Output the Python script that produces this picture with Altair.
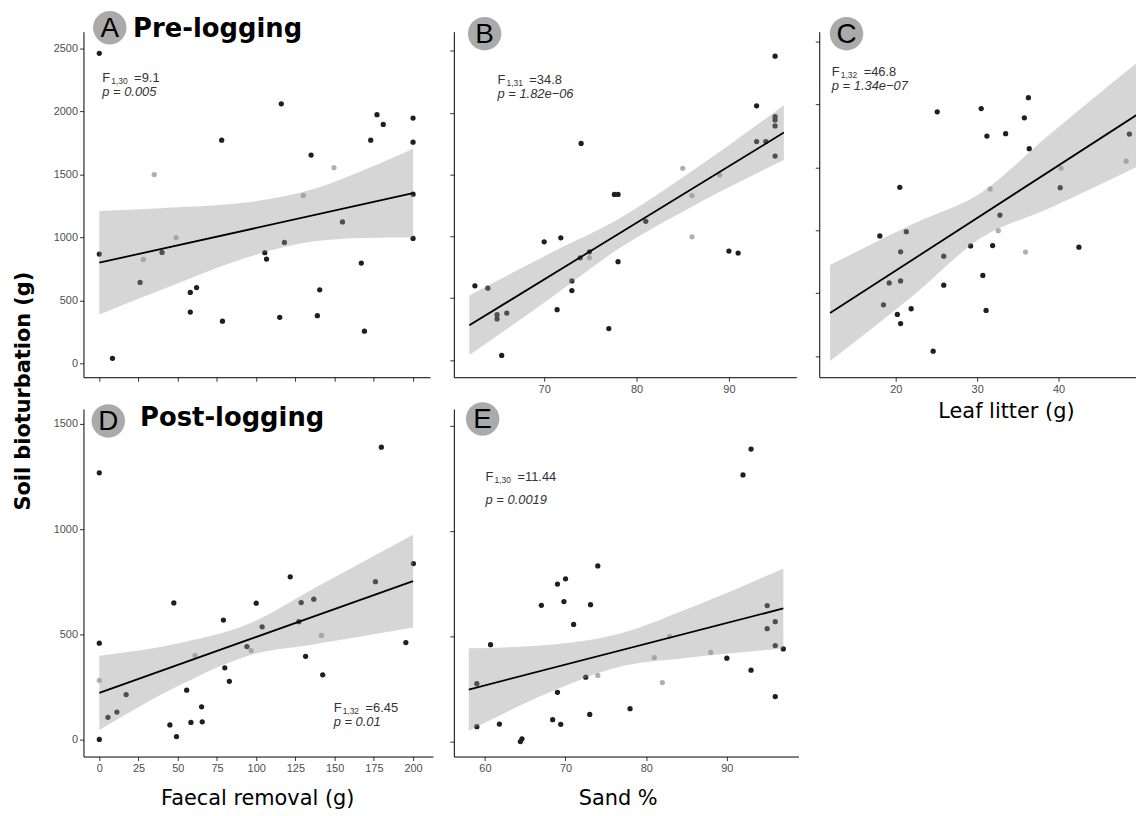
import altair as alt
import pandas as pd

# ---------------- data ----------------
# Panel A: pre-logging, faecal removal (g)
A_x = [0, 0, 8.4, 26, 28, 35, 40, 49, 58, 58, 62, 78, 78.5, 105.5, 106.6, 115, 116, 118, 130, 135,
       139, 140.5, 149.6, 155, 167, 169, 173, 177, 181, 200, 200, 200, 200]
A_y = [2460, 868, 42, 643, 826, 1498, 881, 999, 564, 409, 603, 1771, 336, 879, 829, 367, 2059, 960, 1333, 1653,
       380, 585, 1553, 1123, 797, 257, 1771, 1973, 1896, 1946, 1755, 1343, 992]
A_g = ["black", "black", "black", "black", "grey", "grey", "black", "grey", "black", "black", "black", "black",
       "black", "black", "black", "black", "black", "black", "grey", "black", "black", "black", "grey", "black",
       "black", "black", "black", "black", "black", "black", "black", "black", "black"]
A_band_x = [0, 53, 95, 137, 169, 200]
A_band_lo = [390, 651, 845, 969, 996, 999]
A_band_hi = [1210, 1241, 1279, 1385, 1536, 1703]
A_line_x = [0, 200]
A_line_y = [800, 1351]

# Panel B: pre-logging, sand %
B_x = [62.5, 63.9, 64.9, 64.9, 65.4, 65.95, 70.0, 71.4, 71.8, 73.0, 73.0, 73.9, 74.0, 74.9, 74.9, 77.0, 77.6,
       78.0, 78.0, 81.0, 85.0, 86.0, 86.0, 89.0, 90.0, 91.0, 93.0, 93.0, 94.0, 95.0, 95.0, 95.0, 95.0, 95.0]
B_y = [600, 581, 367, 332, 37, 380, 956, 407, 988, 640, 562, 827, 1751, 827, 875, 254, 1339,
       1339, 795, 1122, 1550, 1330, 996, 1496, 881, 865, 2056, 1767, 1767, 2457, 1968, 1941, 1893, 1649]
B_g = ["black"] * 13 + ["grey"] + ["black"] * 6 + ["grey"] * 4 + ["black"] * 10
B_band_x = [61.9, 71, 78.1, 85.3, 95.95]
B_band_lo = [40, 517, 902, 1212, 1617]
B_band_hi = [522, 877, 1142, 1492, 2061]
B_line_x = [61.9, 95.95]
B_line_y = [281, 1839]

# Panel C: pre-logging, leaf litter (g)
C_x = [18.05, 18.5, 19.2, 20.2, 20.5, 20.6, 20.6, 20.6, 21.3, 21.9, 24.6, 25.1, 25.9, 25.9, 29.2, 30.5, 30.7,
       31.1, 31.2, 31.6, 32.6, 32.8, 31.9, 33.5, 35.8, 35.95, 36.3, 36.4, 40.2, 40.3, 42.5, 48.3, 48.7]
C_y = [954, 407, 581, 331, 1341, 828, 597, 258, 988, 376, 39, 1940, 563, 794, 875, 1966, 641,
       363, 1748, 1328, 996, 1120, 878, 1767, 1893, 826, 2053, 1648, 1338, 1493, 865, 1548, 1764]
C_g = ["black"] * 19 + ["grey", "grey"] + ["black"] * 4 + ["grey"] + ["black"] * 3 + ["grey", "black", "grey", "black"]
C_band_x = [11.94, 22.3, 30.5, 38.6, 50.3]
C_band_lo = [-39, 490, 940, 1167, 1524]
C_band_hi = [723, 1055, 1298, 1745, 2366]
C_line_x = [11.94, 50.3]
C_line_y = [342, 1945]

# Panel D: post-logging, faecal removal (g)
D_x = [0, 0, 0, 0, 5.5, 11.2, 17.1, 45, 47.5, 49.2, 55.7, 58.4, 61, 65.2, 65.6, 79.1, 80, 82.9, 94.1, 96.8,
       100, 103.8, 121.7, 127.2, 128.7, 131.5, 136.7, 141.6, 142.4, 176, 179.8, 195.4, 200.2]
D_y = [1268, 459, 283, 2, 107, 132, 215, 71, 650, 16, 236, 83, 401, 157, 86, 569, 342, 278, 443, 424,
       649, 537, 774, 561, 652, 397, 668, 496, 309, 751, 1390, 462, 837]
D_g = ["black", "black", "grey"] + ["black"] * 9 + ["grey"] + ["black"] * 6 + ["grey"] + ["black"] * 7 + ["grey"] + ["black"] * 5
D_band_x = [0, 53, 95, 137, 200]
D_band_lo = [47, 266, 400, 454, 534]
D_band_hi = [400, 463, 550, 720, 974]
D_line_x = [0, 200]
D_line_y = [223, 754]

# Panel E: post-logging, sand %
E_x = [59.0, 59.0, 60.7, 61.8, 64.4, 64.6, 67.0, 68.4, 69.0, 69.0, 69.4, 69.8, 70.0, 71.0, 72.5, 73.0, 73.1,
       74.0, 74.0, 78.0, 81.0, 82.0, 82.9, 88.0, 90.0, 92.0, 93.0, 93.0, 95.0, 95.0, 96.0, 96.0, 96.0, 97.0]
E_y = [275, 71, 460, 83, 0, 13, 647, 104, 748, 234, 82, 665, 773, 556, 306, 129, 650,
       834, 314, 156, 399, 280, 500, 423, 396, 1266, 1389, 339, 646, 536, 569, 456, 214, 440]
E_g = ["black"] * 18 + ["grey", "black"] + ["grey"] * 4 + ["black"] * 10
E_band_x = [58, 68.5, 76.7, 84.9, 97]
E_band_lo = [51, 241, 355, 397, 442]
E_band_hi = [443, 461, 512, 627, 822]
E_line_x = [58, 97]
E_line_y = [247, 632]

# tick values
faecal_ticks = [0, 25, 50, 75, 100, 125, 150, 175, 200]
sand_ticks_B = [70, 80, 90]
sand_ticks_E = [60, 70, 80, 90]
litter_ticks = [20, 30, 40]
pre_y_ticks = [0, 500, 1000, 1500, 2000, 2500]
post_y_ticks = [0, 500, 1000, 1500]

# statistics text
stat_sub = {"A": "1,30", "B": "1,31", "C": "1,32", "D": "1,32", "E": "1,30"}
stat_F = {"A": "=9.1", "B": "=34.8", "C": "=46.8", "D": "=6.45", "E": "=11.44"}
stat_p = {"A": "p = 0.005", "B": "p = 1.82e\u221206", "C": "p = 1.34e\u221207", "D": "p = 0.01", "E": "p = 0.0019"}

TICK_FONT = "Liberation Sans"
TITLE_FONT = "DejaVu Sans"
DUMMY = pd.DataFrame({"k": [0]})


def txt(s, x, y, size, **kw):
    return alt.Chart(DUMMY).mark_text(text=s, fontSize=size, **kw).encode(x=alt.value(x), y=alt.value(y))


def badge(letter, cx, cy):
    c = alt.Chart(DUMMY).mark_circle(size=1134, color="#aaaaaa", opacity=1).encode(
        x=alt.value(cx), y=alt.value(cy))
    t = txt(letter, cx, cy + 1, 28, font=TICK_FONT, color="black", align="center", baseline="middle")
    return [c, t]


def stats(key, fx, fy, pdy):
    col = "#333333"
    return [
        txt("F", fx, fy, 13, font=TICK_FONT, color=col, align="left", baseline="alphabetic"),
        txt(stat_sub[key], fx + 9, fy + 2, 8.5, font=TICK_FONT, color=col, align="left", baseline="alphabetic"),
        txt(stat_F[key], fx + 32, fy, 13, font=TICK_FONT, color=col, align="left", baseline="alphabetic"),
        txt(stat_p[key], fx, fy + pdy, 13, font=TICK_FONT, color=col, align="left", baseline="alphabetic",
            fontStyle="italic"),
    ]


def panel(px, py, pg, bx, blo, bhi, lx, ly, xdom, ydom, xticks, yticks, w, h,
          xlabels, ylabels, extras, xtitle=None, tpad=10, tx=None):
    pts = pd.DataFrame({"x": px, "y": py, "g": pg})
    band = pd.DataFrame({"x": bx, "lo": blo, "hi": bhi})
    line = pd.DataFrame({"x": lx, "y": ly})

    common = dict(grid=False, domainColor="black", domainWidth=1, tickColor="#333333", tickSize=4,
                  tickWidth=1, labelColor="#4d4d4d", labelFont=TICK_FONT, labelFontSize=11, labelPadding=2,
                  format="d")

    def X(field):
        kw = dict(common, values=xticks, labels=xlabels)
        if xtitle:
            kw.update(titleFont=TITLE_FONT, titleFontSize=21, titleFontWeight="normal", titleColor="black",
                      titlePadding=tpad)
            if tx is not None:
                kw["titleX"] = tx
            return alt.X(f"{field}:Q", scale=alt.Scale(domain=xdom, nice=False, zero=False),
                         axis=alt.Axis(**kw), title=xtitle)
        return alt.X(f"{field}:Q", scale=alt.Scale(domain=xdom, nice=False, zero=False),
                     axis=alt.Axis(**kw), title=None)

    def Y(field):
        kw = dict(common, values=yticks, labels=ylabels)
        return alt.Y(f"{field}:Q", scale=alt.Scale(domain=ydom, nice=False, zero=False),
                     axis=alt.Axis(**kw), title=None)

    points = alt.Chart(pts).mark_circle(size=28, opacity=1).encode(
        x=X("x"), y=Y("y"),
        color=alt.Color("g:N", scale=alt.Scale(domain=["black", "grey"], range=["#1f1f1f", "#b0b0b0"]),
                        legend=None))
    bandc = alt.Chart(band).mark_area(color="#999999", opacity=0.4, interpolate="monotone", clip=True).encode(
        x=X("x"), y=Y("lo"), y2="hi:Q")
    linec = alt.Chart(line).mark_line(color="black", strokeWidth=1.8, clip=True).encode(x=X("x"), y=Y("y"))
    return alt.layer(points, bandc, linec, *extras).properties(width=w, height=h)


A = panel(A_x, A_y, A_g, A_band_x, A_band_lo, A_band_hi, A_line_x, A_line_y,
          [-10.1, 210.8], [-108, 2631], faecal_ticks, pre_y_ticks, 349, 348, False, True,
          badge("A", 26.5, -4)
          + [txt("Pre-logging", 50, 5, 26, font=TITLE_FONT, fontWeight="bold", color="black",
                 align="left", baseline="alphabetic")]
          + stats("A", 19, 51, 14))

B = panel(B_x, B_y, B_g, B_band_x, B_band_lo, B_band_hi, B_line_x, B_line_y,
          [60.22, 97.31], [-139, 2655], sand_ticks_B, pre_y_ticks, 345, 348, True, False,
          badge("B", 31, 2) + stats("B", 44, 53, 14))

C = panel(C_x, C_y, C_g, C_band_x, C_band_lo, C_band_hi, C_line_x, C_line_y,
          [10.61, 49.51], [-168, 2577], litter_ticks, pre_y_ticks, 319, 348, True, False,
          badge("C", 27.5, 2) + stats("C", 12.7, 44.5, 14),
          xtitle="Leaf litter (g)", tpad=7, tx=188)

D = panel(D_x, D_y, D_g, D_band_x, D_band_lo, D_band_hi, D_line_x, D_line_y,
          [-10.1, 212.7], [-79, 1571], faecal_ticks, post_y_ticks, 352, 350, True, True,
          badge("D", 25, 12)
          + [txt("Post-logging", 57, 17, 26, font=TITLE_FONT, fontWeight="bold", color="black",
                 align="left", baseline="alphabetic"),
             txt("Soil bioturbation (g)", -59.5, -18, 21, font=TITLE_FONT, fontWeight="bold", color="black",
                 align="center", baseline="middle", angle=270)]
          + stats("D", 252, 305, 14),
          xtitle="Faecal removal (g)", tpad=14, tx=175)

E = panel(E_x, E_y, E_g, E_band_x, E_band_lo, E_band_hi, E_line_x, E_line_y,
          [56.15, 98.87], [-71, 1579], sand_ticks_E, post_y_ticks, 347, 350, True, False,
          badge("E", 29, 10) + stats("E", 32, 73, 23),
          xtitle="Sand %", tpad=14, tx=165)

chart = alt.concat(A, B, C, D, E, columns=3, spacing={"row": 32, "column": 21},
                   align="none", bounds="flush").configure_view(strokeWidth=0).properties(
    padding={"left": 5, "top": 0, "right": 0, "bottom": 0},
    autosize=alt.AutoSizeParams(type="pad"))

chart.save("out.html", embed_options={"renderer": "svg", "actions": False})
